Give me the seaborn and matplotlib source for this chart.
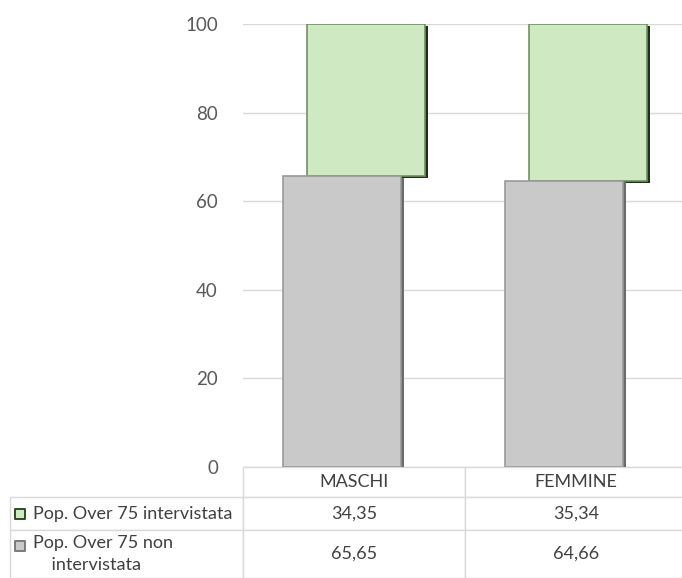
import matplotlib
matplotlib.use("Agg")
import matplotlib.pyplot as plt
import matplotlib.transforms as mtransforms
import matplotlib.patheffects as pe
from matplotlib.table import Table
import seaborn as sns
import pandas as pd

categories = ["MASCHI", "FEMMINE"]
series_names = ["Pop. Over 75 intervistata", "Pop. Over 75 non\n    intervistata"]
intervistata = [34.35, 35.34]
non_intervistata = [65.65, 64.66]
y_ticks = [0, 20, 40, 60, 80, 100]

sns.set_theme(style="white")
plt.rcParams["font.family"] = ["Lato", "DejaVu Sans"]

W, H = 682, 578
fig = plt.figure(figsize=(W / 100, H / 100), dpi=100)
ax = fig.add_axes([243 / W, (H - 467) / H, 444 / W, 443 / H])

df = pd.DataFrame({"cat": categories, "non": non_intervistata, "int": intervistata})

green = "#cfeac2"
gray = "#c9c9c9"

# green (stacked on top of gray)
n0 = len(ax.patches)
sns.barplot(data=df, x="cat", y="int", bottom=df["non"], color=green, saturation=1,
            width=0.53, edgecolor="#6f9262", linewidth=1.2, ax=ax, zorder=2)
green_bars = ax.patches[n0:]
n1 = len(ax.patches)
sns.barplot(data=df, x="cat", y="non", color=gray, saturation=1,
            width=0.53, edgecolor="#9a9a9a", linewidth=1.2, ax=ax, zorder=3)
gray_bars = ax.patches[n1:]

shift_g = mtransforms.ScaledTranslation(12 / 100, 0, fig.dpi_scale_trans)
shift_k = mtransforms.ScaledTranslation(-12 / 100, 0, fig.dpi_scale_trans)
for p in green_bars:
    p.set_transform(ax.transData + shift_g)
    p.set_path_effects([pe.SimplePatchShadow(offset=(2.5, -1.5), shadow_rgbFace="#1f2f1a", alpha=1.0),
                        pe.Normal()])
for p in gray_bars:
    p.set_transform(ax.transData + shift_k)
    p.set_path_effects([pe.SimplePatchShadow(offset=(2.5, -1.0), shadow_rgbFace="#6a6a6a", alpha=1.0),
                        pe.Normal()])

ax.set_ylim(0, 100)
ax.set_xlim(-0.5, 1.5)
ax.set_yticks(y_ticks)
ax.set_yticklabels([str(t) for t in y_ticks])
ax.yaxis.grid(True, color="#d9d9d9", linewidth=1.0)
ax.set_axisbelow(True)
for s in ["left", "right", "top", "bottom"]:
    ax.spines[s].set_visible(False)
ax.set_xticks([])
ax.set_xlabel("")
ax.set_ylabel("")
ax.tick_params(axis="y", length=0, pad=18, labelsize=13.5, labelcolor="#595959")

# data table
tb = Table(ax, bbox=[(10 - 243) / 444, -111 / 443, 677 / 444, 111 / 443])
colw = [233, 222, 222]
rowh = [30, 33, 48]
edge = "#d9d9d9"
txtc = "#404040"
fs = 13

def fmt(v):
    return f"{v:.2f}".replace(".", ",")

c = tb.add_cell(0, 0, colw[0], rowh[0], text="", loc="left")
c.visible_edges = ""
for j, cat in enumerate(categories):
    c = tb.add_cell(0, j + 1, colw[j + 1], rowh[0], text=cat, loc="center")
rows = [intervistata, non_intervistata]
for i, (name, vals) in enumerate(zip(series_names, rows)):
    c = tb.add_cell(i + 1, 0, colw[0], rowh[i + 1], text=name, loc="left")
    for j, v in enumerate(vals):
        tb.add_cell(i + 1, j + 1, colw[j + 1], rowh[i + 1], text=fmt(v), loc="center")
tb.auto_set_font_size(False)
for (r, cidx), cell in tb.get_celld().items():
    cell.set_edgecolor(edge)
    cell.set_linewidth(1.0)
    cell.get_text().set_fontsize(fs)
    cell.get_text().set_color(txtc)
    cell.get_text().set_linespacing(1.45)
    if cidx == 0:
        cell.PAD = 0.1
ax.add_table(tb)

# legend keys inside the table
ax_keys = fig.add_axes([0, 0, 1, 1], facecolor="none")
ax_keys.set_axis_off()
ax_keys.set_xlim(0, W)
ax_keys.set_ylim(H, 0)
ax_keys.scatter([20], [514], marker="s", s=50, color=green, edgecolor="#2f4a28", linewidth=1.4)
ax_keys.scatter([20], [546], marker="s", s=50, color=gray, edgecolor="#7a7a7a", linewidth=1.4)

fig.savefig("out.png", dpi=100)
